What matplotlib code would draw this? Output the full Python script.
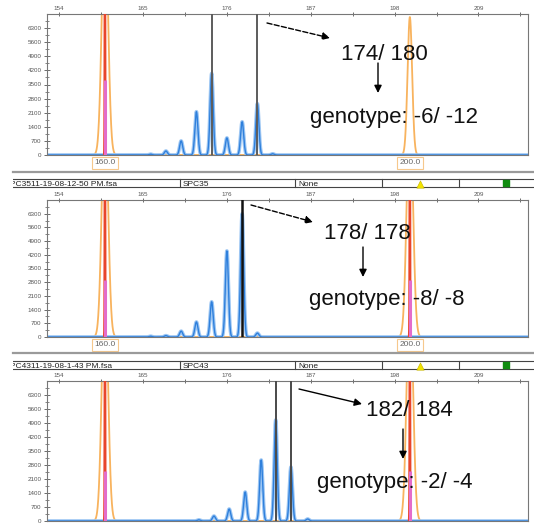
import numpy as np
import matplotlib.pyplot as plt
from matplotlib.patches import Rectangle

plt.rcParams['font.family'] = ['Liberation Sans', 'DejaVu Sans']

# size standard (orange) peaks, bp
ref_bp = [160, 200]
ref_h1 = [12000, 6850]
ref_h2 = [12000, 12000]
ref_h3 = [12000, 12000]
marked1 = [160]          # size standard peaks flagged with the pink line
marked2 = [160, 200]
marked3 = [160, 200]
mark_top = [3700, 2900, 2500]   # how high the pink flag reaches in each run

# blue sample peaks (bp, height in RFU)
bp1 = [166, 168, 170, 172, 174, 176, 178, 180, 182]
h1 = [40, 200, 700, 2150, 4050, 850, 1650, 2550, 60]
calls1 = [174, 180]

bp2 = [166, 168, 170, 172, 174, 176, 178, 180]
h2 = [40, 70, 300, 770, 1800, 4400, 6300, 200]
calls2 = [178]

bp3 = [172.3, 174.3, 176.3, 178.4, 180.5, 182.4, 184.4, 186.6]
h3 = [60, 250, 600, 1450, 3050, 5050, 2700, 100]
calls3 = [182.4, 184.4]

x_ticks = [154, 165, 176, 187, 198, 209]
y_ticks = [0, 700, 1400, 2100, 2800, 3500, 4200, 4900, 5600, 6300]

files = ['PC3511-19-08-12-50 PM.fsa', 'PC4311-19-08-1-43 PM.fsa']
samples = ['SPC35', 'SPC43']

alleles = ['174/ 180', '178/ 178', '182/ 184']
genotypes = ['genotype: -6/ -12', 'genotype: -8/ -8', 'genotype: -2/ -4']

W, H = 534, 523
fig = plt.figure(figsize=(W / 100, H / 100), dpi=100)


def rect(l, t, r, b):
    return [l / W, 1 - b / H, (r - l) / W, (b - t) / H]


def trace(xs, centers, heights, sigma):
    y = np.zeros_like(xs)
    for c, h in zip(centers, heights):
        y += h * np.exp(-0.5 * ((xs - c) / sigma) ** 2)
    return y


xs = np.linspace(150, 218, 6000)

panels = [
    (rect(47, 14, 528, 155), ref_h1, marked1, bp1, h1, calls1, '#5c5c5c', 1.4),
    (rect(47, 200, 528, 337), ref_h2, marked2, bp2, h2, calls2, '#111111', 1.8),
    (rect(47, 381, 528, 521), ref_h3, marked3, bp3, h3, calls3, '#4a4a4a', 1.4),
]

for i, (r, rh, marked, bp, hh, calls, lc, lw) in enumerate(panels):
    ax = fig.add_axes(r)
    sig = [0.4 if v >= 9000 else 0.3 for v in rh]
    orange = np.zeros_like(xs)
    for c, v, s in zip(ref_bp, rh, sig):
        orange += trace(xs, [c], [v], s)
    ax.plot(xs, orange, color='#f8b35e', lw=1.3, zorder=2)
    for m in marked:
        red = trace(xs, [m], [20000], 0.04)
        red[red < 20] = np.nan
        ax.plot(xs, red, color='#e8452c', lw=1.3, zorder=3)
        ax.vlines(m, 0, mark_top[i], color='#e46ccb', lw=2.2, zorder=4)
    blue = trace(xs, bp, hh, 0.2)
    ax.plot(xs, blue, color='#9cc6f3', lw=2.6, zorder=2)
    ax.plot(xs, blue, color='#2f80dc', lw=1.0, zorder=2)
    for c in calls:
        ax.axvline(c, color=lc, lw=lw, zorder=5)

    ax.set_xlim(152.4, 215.5)
    ax.set_ylim(0, 7000)
    ax.xaxis.tick_top()
    ax.set_xticks(x_ticks)
    ax.set_xticks([t + 5.5 for t in x_ticks], minor=True)
    ax.set_yticks(y_ticks)
    ax.set_yticks([t + 350 for t in y_ticks], minor=True)
    ax.tick_params(axis='x', which='both', direction='inout', length=3, width=0.6,
                   labelsize=4.5, pad=1, colors='#555555')
    ax.tick_params(axis='y', which='major', direction='inout', length=4, width=0.6,
                   labelsize=4.5, pad=2, colors='#555555')
    ax.tick_params(axis='y', which='minor', direction='inout', length=2.5, width=0.5,
                   colors='#555555')
    for sp in ax.spines.values():
        sp.set_color('#777777')
        sp.set_linewidth(0.8)

    if i < 2:
        for c in ref_bp:
            ax.annotate(f'{c:.1f}', xy=(c, 0), xycoords=('data', 'axes fraction'),
                        xytext=(0, -8), textcoords='offset pixels', ha='center', va='center',
                        fontsize=6, color='#666666', annotation_clip=False,
                        bbox=dict(boxstyle='square,pad=0.25', fc='white', ec='#f6c88c', lw=0.8))

# overlay in pixel coordinates for the header rows and the annotations
ov = fig.add_axes([0, 0, 1, 1], zorder=10)
ov.set_xlim(0, W)
ov.set_ylim(H, 0)
ov.axis('off')
ov.patch.set_alpha(0)

for (sep, top, bot), fname, spc in zip([(172, 179, 187), (353, 361, 369)], files, samples):
    ov.plot([13, W], [sep, sep], color='#9a9a9a', lw=1.6)
    ov.plot([13, W], [top, top], color='#444444', lw=0.8)
    ov.plot([13, W], [bot, bot], color='#444444', lw=0.8)
    for xd in [180, 295, 382, 459]:
        ov.plot([xd, xd], [top, bot], color='#444444', lw=0.8)
    ov.text(10.5, bot - 1, fname, fontsize=6, color='#222222', va='baseline', ha='left', zorder=3)
    ov.text(183, bot - 1, spc, fontsize=6, color='#222222', va='baseline', ha='left')
    ov.text(298, bot - 1, 'None', fontsize=6, color='#222222', va='baseline', ha='left')
    ov.add_patch(Rectangle((0, top - 1), 13, bot - top + 2, fc='white', ec='none', zorder=4))
    ov.scatter([420], [(top + bot) / 2 + 0.5], marker='^', s=28, color='#f2e400',
               edgecolor='#c8b400', lw=0.4, zorder=5)
    ov.scatter([506], [(top + bot) / 2], marker='s', s=24, color='#108c10', zorder=5)

arrows = [((267, 23), (330, 38), '--'), ((251, 205), (313, 222), '--'), ((299, 389), (362, 404), '-')]
allele_pos = [(384, 60), (367, 239), (409, 416)]
down = [(378, 63, 93), (363, 247, 277), (403, 429, 459)]
geno_pos = [(394, 123), (387, 305), (395, 488)]

for (a0, a1, ls), (ax_, ay), (dx, d0, d1), (gx, gy), al, gt in zip(
        arrows, allele_pos, down, geno_pos, alleles, genotypes):
    ov.annotate('', xy=a1, xytext=a0,
                arrowprops=dict(arrowstyle='-|>', color='black', lw=1.0, ls=ls,
                                mutation_scale=11, shrinkA=0, shrinkB=0))
    ov.text(ax_, ay, al, fontsize=16, ha='center', va='baseline', color='#111111')
    ov.annotate('', xy=(dx, d1), xytext=(dx, d0),
                arrowprops=dict(arrowstyle='-|>', color='black', lw=1.0,
                                mutation_scale=11, shrinkA=0, shrinkB=0))
    ov.text(gx, gy, gt, fontsize=16, ha='center', va='baseline', color='#111111')

fig.savefig('out.png', dpi=100)
